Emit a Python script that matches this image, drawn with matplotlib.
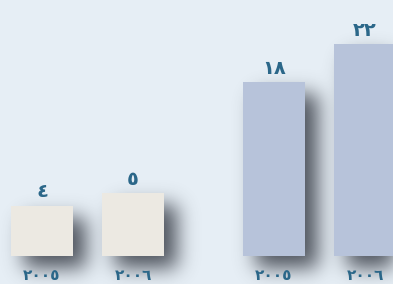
import numpy as np
import matplotlib.pyplot as plt

# Data (two side-by-side groups, each with its own scale)
years = ['٢٠٠٥', '٢٠٠٦']
left_values = [4, 5]
right_values = [18, 22]
left_labels = ['٤', '٥']
right_labels = ['١٨', '٢٢']

BG = '#e6eef5'
TEXT = '#2b6789'
LEFT_COLOR = '#ece9e2'
RIGHT_COLOR = '#b7c3da'
W, H = 393, 284
DPI = 100

fig = plt.figure(figsize=(W / DPI, H / DPI), dpi=DPI)
fig.patch.set_facecolor(BG)

ax_l = fig.add_axes([0, 28 / H, 196.5 / W, 256 / H])
ax_r = fig.add_axes([196.5 / W, 28 / H, 196.5 / W, 256 / H])

groups = [
    (ax_l, left_values, left_labels, LEFT_COLOR, (-42 / 91, 154.5 / 91), 256 / 12.6),
    (ax_r, right_values, right_labels, RIGHT_COLOR, (-77.5 / 91, 119 / 91), 256 / 9.65),
]

all_bars = []
for ax, vals, labs, col, xl, ytop in groups:
    x = np.arange(len(vals))
    bars = ax.bar(x, vals, width=0.68, color=col, zorder=3)
    all_bars.extend(bars)
    for b, lab in zip(bars, labs):
        ax.annotate(lab, (b.get_x() + b.get_width() / 2, b.get_height()),
                    xytext=(0, 3), textcoords='offset points',
                    ha='center', va='bottom', fontsize=14,
                    fontweight='bold', color=TEXT)
    ax.set_xticks(x)
    ax.set_xticklabels(years, fontsize=11, fontweight='bold', color=TEXT)
    ax.tick_params(axis='x', length=0, pad=9)
    ax.set_yticks([])
    ax.set_xlim(*xl)
    ax.set_ylim(0, ytop)
    ax.patch.set_visible(False)
    for s in ax.spines.values():
        s.set_visible(False)

# Soft drop shadows built from the drawn bar extents
fig.canvas.draw()
mask = np.zeros((H, W))
dx, dy = 13, 12
for b in all_bars:
    bb = b.get_window_extent()
    c0 = int(round(bb.x0)) + dx
    c1 = int(round(bb.x1)) + dx
    r0 = H - int(round(bb.y1)) + dy
    r1 = H - int(round(bb.y0)) + dy
    mask[max(r0, 0):min(r1, H), max(c0, 0):min(c1, W)] = 1.0

sigma = 10
k = np.arange(-3 * sigma, 3 * sigma + 1)
kern = np.exp(-k ** 2 / (2 * sigma ** 2))
kern /= kern.sum()
mask = np.apply_along_axis(lambda r: np.convolve(r, kern, mode='same'), 1, mask)
mask = np.apply_along_axis(lambda c: np.convolve(c, kern, mode='same'), 0, mask)

shadow = np.zeros((H, W, 4))
shadow[..., 0] = 0.2
shadow[..., 1] = 0.22
shadow[..., 2] = 0.26
shadow[..., 3] = np.clip(mask * 0.85, 0, 1)
fig.figimage(shadow, xo=0, yo=0, origin='upper', zorder=-1)

fig.savefig('out.png', dpi=DPI, facecolor=BG)
